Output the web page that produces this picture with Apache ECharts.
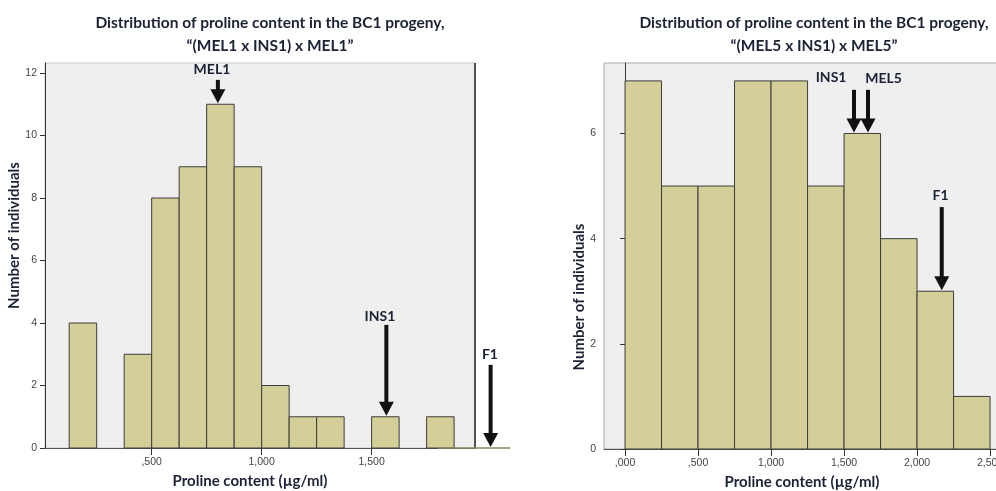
<!DOCTYPE html>
<html>
<head>
<meta charset="utf-8">
<script src="https://cdn.jsdelivr.net/npm/echarts@6/dist/echarts.min.js"></script>
<style>
  html, body { margin: 0; padding: 0; background: #fff; }
  #main { width: 996px; height: 491px; }
</style>
</head>
<body>
<div id="main"></div>
<script>
// left panel: (MEL1 x INS1) x MEL1, bins of 125
const leftBinStarts = [125, 250, 375, 500, 625, 750, 875, 1000, 1125, 1250, 1375, 1500, 1625, 1750];
const leftCounts    = [4,   0,   3,   8,   9,   11,  9,   2,    1,    1,    0,    1,    0,    1];
const leftBinWidth = 125;
const leftTicks = [500, 1000, 1500];
const leftTickLabels = [',500', '1,000', '1,500'];
const leftYTicks = [0, 2, 4, 6, 8, 10, 12];

// right panel: (MEL5 x INS1) x MEL5, bins of 250
const rightBinStarts = [0, 250, 500, 750, 1000, 1250, 1500, 1750, 2000, 2250];
const rightCounts    = [7, 5,   5,   7,   7,    5,    6,    4,    3,    1];
const rightBinWidth = 250;
const rightTicks = [0, 500, 1000, 1500, 2000, 2500];
const rightTickLabels = [',000', ',500', '1,000', '1,500', '2,000', '2,500'];
const rightYTicks = [0, 2, 4, 6];

// parent / F1 arrows: [label, arrow x, tail y, tip y, label x, label y]
const leftArrows = [
    ['MEL1', 801, 11.78, 11, 774, 12.12],
    ['INS1', 1567, 3.94, 1, 1538, 4.2],
    ['F1', 2041, 2.66, 0, 2038, 2.98]
];
const rightArrows = [
    ['INS1', 1568, 6.83, 6, 1411, 7.07],
    ['MEL5', 1664, 6.83, 6, 1771, 7.05],
    ['F1', 2169, 4.6, 3, 2161, 4.83]
];

const barFill = '#d4cf99';
const barLine = '#3c3c3c';
const navy = '#1b2236';

function binData(starts, counts, width){
    let out = [];
    for (let i = 0; i < starts.length; i++){
        if (counts[i] > 0) out.push([starts[i], starts[i] + width, counts[i]]);
    }
    return out;
}

function histItem(params, api){
    let p0 = api.coord([api.value(0), api.value(2)]);
    let p1 = api.coord([api.value(1), 0]);
    return {
        type: 'rect',
        shape: {x: p0[0], y: p0[1], width: p1[0] - p0[0], height: p1[1] - p0[1]},
        style: {fill: barFill, stroke: barLine, lineWidth: 1}
    };
}

function xAxisOf(grid, min, max, ticks, labels, pad){
    return {
        type: 'value', gridIndex: grid, min: min, max: max,
        name: 'Proline content (µg/ml)', nameLocation: 'middle', nameGap: 26,
        nameTextStyle: {fontFamily: 'Lato', fontWeight: 'bold', fontSize: 15, color: navy, padding: pad},
        axisLine: {show: true, onZero: false, lineStyle: {color: '#555', width: 1}},
        axisTick: {show: true, length: 7, customValues: ticks, lineStyle: {color: '#333'}},
        axisLabel: {
            customValues: ticks, margin: 9, fontSize: 10.5, color: '#444', fontFamily: 'Liberation Sans',
            formatter: function(v){ return labels[ticks.indexOf(v)]; }
        },
        splitLine: {show: false}
    };
}

function yAxisOf(grid, max, ticks, gap, pad){
    return {
        type: 'value', gridIndex: grid, min: 0, max: max,
        name: 'Number of individuals', nameLocation: 'middle', nameGap: gap, nameRotate: 90,
        nameTextStyle: {fontFamily: 'Lato', fontWeight: 'bold', fontSize: 15, color: navy, padding: pad},
        axisLine: {show: true, lineStyle: {color: '#333', width: 1}},
        axisTick: {show: true, length: 5, customValues: ticks, lineStyle: {color: '#333'}},
        axisLabel: {customValues: ticks, margin: 8, fontSize: 10.5, color: '#444', fontFamily: 'Liberation Sans'},
        splitLine: {show: false}
    };
}

const titleStyle = {fontFamily: 'Lato', fontWeight: 'bold', fontSize: 15.5, color: navy, lineHeight: 23};

let chart = echarts.init(document.getElementById('main'), null, {renderer: 'canvas'});
chart.setOption({
    animation: false,
    backgroundColor: '#fff',
    title: [
        {text: 'Distribution of proline content in the BC1 progeny,\n“(MEL1 x INS1) x MEL1”',
         left: 265, top: 6, textAlign: 'center', textStyle: titleStyle},
        {text: 'Distribution of proline content in the BC1 progeny,\n“(MEL5 x INS1) x MEL5”',
         left: 809, top: 6, textAlign: 'center', textStyle: titleStyle}
    ],
    grid: [
        {left: 45, top: 63, width: 430, height: 385, show: true, backgroundColor: '#efefef',
         borderColor: '#c8c8c8', borderWidth: 1, outerBoundsMode: 'none'},
        {left: 604, top: 63, width: 396, height: 386, show: true, backgroundColor: '#efefef',
         borderColor: '#aaaaaa', borderWidth: 1, outerBoundsMode: 'none'}
    ],
    xAxis: [
        xAxisOf(0, 15, 1970, leftTicks, leftTickLabels, [0, 20, 0, 0]),
        xAxisOf(1, -144, 2568, rightTicks, rightTickLabels, [0, 0, 0, 0])
    ],
    yAxis: [
        yAxisOf(0, 12.32, leftYTicks, 22, [0, 0, 0, 40]),
        yAxisOf(1, 7.34, rightYTicks, 17, [0, 82, 0, 0])
    ],
    series: [
        {type: 'custom', xAxisIndex: 0, yAxisIndex: 0, renderItem: histItem,
         data: binData(leftBinStarts, leftCounts, leftBinWidth)},
        {type: 'custom', xAxisIndex: 1, yAxisIndex: 1, renderItem: histItem,
         data: binData(rightBinStarts, rightCounts, rightBinWidth)}
    ]
});

// arrows and extra lines, placed through the axes
function arrowGraphics(arrows, xi, yi){
    let g = [];
    for (let a of arrows){
        let tail = chart.convertToPixel({xAxisIndex: xi, yAxisIndex: yi}, [a[1], a[2]]);
        let tip = chart.convertToPixel({xAxisIndex: xi, yAxisIndex: yi}, [a[1], a[3]]);
        let lab = chart.convertToPixel({xAxisIndex: xi, yAxisIndex: yi}, [a[4], a[5]]);
        let x = tail[0], ty = tip[1] - 1;
        g.push({type: 'line', z: 50, shape: {x1: x, y1: tail[1], x2: x, y2: ty - 11},
                style: {stroke: '#111', lineWidth: 4}});
        g.push({type: 'polygon', z: 50, shape: {points: [[x - 7.5, ty - 14], [x + 7.5, ty - 14], [x, ty]]},
                style: {fill: '#111'}});
        g.push({type: 'text', z: 50, x: lab[0], y: lab[1],
                style: {text: a[0], fill: navy, font: 'bold 14px Lato', align: 'center', verticalAlign: 'middle'}});
    }
    return g;
}

let lb = chart.convertToPixel({xAxisIndex: 0, yAxisIndex: 0}, [1970, 0]);
let lt = chart.convertToPixel({xAxisIndex: 0, yAxisIndex: 0}, [1970, 12.32]);
let b0 = chart.convertToPixel({xAxisIndex: 0, yAxisIndex: 0}, [1802, 0]);
let b1 = chart.convertToPixel({xAxisIndex: 0, yAxisIndex: 0}, [2130, 0]);
let extra = [
    {type: 'line', z: 40, shape: {x1: lb[0], y1: lb[1], x2: lt[0], y2: lt[1]},
     style: {stroke: '#222', lineWidth: 1.5}},
    {type: 'line', z: 40, shape: {x1: b0[0], y1: b0[1], x2: b1[0], y2: b1[1]},
     style: {stroke: '#8c8768', lineWidth: 1.5}}
];

chart.setOption({
    graphic: extra.concat(arrowGraphics(leftArrows, 0, 0), arrowGraphics(rightArrows, 1, 1))
});
</script>
</body>
</html>
